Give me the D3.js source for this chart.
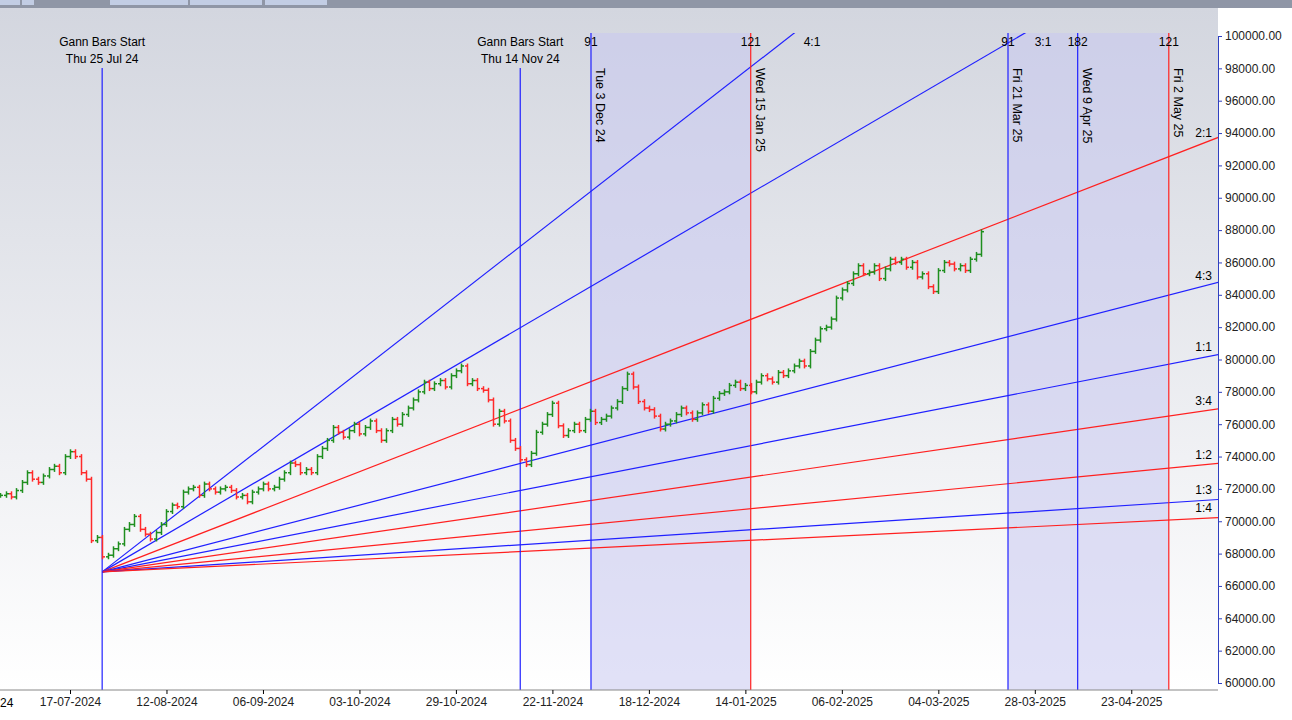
<!DOCTYPE html>
<html><head><meta charset="utf-8">
<script src="https://cdn.jsdelivr.net/npm/d3@7"></script>
<style>body{margin:0;overflow:hidden}svg{display:block;font-family:"Liberation Sans",Arial,sans-serif}</style>
</head><body><svg id="c" width="1292" height="720"></svg>
<script>
// bar index 0 = 17-07-2024 (trading-day index)
const startIndex = -13;
const closes = [71.6,71.7,71.5,71.9,72.4,73.0,72.6,72.4,72.8,73.2,73.4,73.0,74.0,
74.3,74.0,73.0,72.6,68.8,69.0,67.8,67.9,68.3,68.6,69.5,69.8,70.3,69.5,69.2,68.9,69.3,69.8,70.6,71.0,70.9,71.8,72.0,72.1,71.6,72.3,72.0,71.8,72.0,72.1,71.9,71.5,71.6,71.2,71.8,72.0,72.3,72.0,72.1,72.6,73.0,73.6,73.5,73.0,73.2,73.0,74.0,74.5,75.0,75.8,75.5,75.2,75.6,76.0,75.4,75.8,76.2,75.6,75.0,75.6,76.3,76.0,76.6,77.0,77.5,78.0,78.6,78.2,78.5,78.7,78.3,79.0,79.3,79.6,78.5,78.7,78.2,78.1,77.5,76.0,76.8,76.2,75.0,74.5,73.8,73.5,74.2,75.5,76.0,76.6,77.3,75.9,75.3,75.6,76.0,75.6,76.3,76.8,76.1,76.3,76.5,77.0,77.4,78.2,79.1,78.3,77.4,77.0,76.9,76.5,75.7,76.0,76.2,76.6,77.0,76.7,76.3,76.7,77.2,76.8,77.6,77.9,78.0,78.4,78.6,78.2,78.4,78.0,78.6,79.0,78.8,78.6,79.2,79.0,79.3,79.6,79.9,79.6,80.5,81.2,81.9,82.0,82.5,83.8,84.3,84.7,85.3,85.8,85.3,85.4,85.8,85.0,85.6,86.2,86.0,86.2,85.7,86.0,85.1,85.3,84.5,84.2,85.5,86.0,85.9,85.6,85.8,85.5,86.2,86.5,87.9];
const tickLabels = ["17-07-2024","12-08-2024","06-09-2024","03-10-2024","29-10-2024","22-11-2024","18-12-2024","14-01-2025","06-02-2025","04-03-2025","28-03-2025","23-04-2025"];
const tickIdx = [0,18,36,54,72,90,108,126,144,162,180,198];
const gannOrigin = {idx:6, price:66870};
const gannRatios = [["4:1",258,"blue"],["3:1",193.5,"blue"],["2:1",129,"red"],["4:3",86,"blue"],["1:1",64.5,"blue"],["3:4",48.4,"red"],["1:2",32.25,"red"],["1:3",21.5,"blue"],["1:4",16.1,"red"]];
const vlines = [{idx:6,c:"blue",top:"Gann Bars Start|Thu 25 Jul 24"},{idx:84,c:"blue",top:"Gann Bars Start|Thu 14 Nov 24"},
 {idx:97.2,c:"blue",rot:"Tue 3 Dec 24",num:"91"},{idx:127,c:"red",rot:"Wed 15 Jan 25",num:"121"},
 {idx:175,c:"blue",rot:"Fri 21 Mar 25",num:"91"},{idx:188,c:"blue",rot:"Wed 9 Apr 25",num:"182"},{idx:205,c:"red",rot:"Fri 2 May 25",num:"121"}];
const shades = [[97.2,127],[175,205]];

const svg = d3.select("#c");
const x = d3.scaleLinear().domain([0,1]).range([70,75.36]);
const y = d3.scaleLinear().domain([60000,100000]).range([683,36]);
const L=0,R=1218,T=30,B=690;
const defs=svg.append("defs");
const g=defs.append("linearGradient").attr("id","bg").attr("x1",0).attr("x2",0).attr("y1",0).attr("y2",1);
g.append("stop").attr("offset","0").attr("stop-color","#d3d6df");
g.append("stop").attr("offset","1").attr("stop-color","#ffffff");
defs.append("clipPath").attr("id","cp").append("rect").attr("x",L).attr("y",33).attr("width",R-L).attr("height",B-33);
svg.append("rect").attr("width",1292).attr("height",720).attr("fill","#fff");
svg.append("rect").attr("x",0).attr("y",8).attr("width",1292).attr("height",B-8).attr("fill","url(#bg)");
svg.append("rect").attr("x",0).attr("y",0).attr("width",1292).attr("height",8).attr("fill","#8f96a6");
[[0,20],[22,12],[110,78],[190,72],[265,62]].forEach(b=>svg.append("rect").attr("x",b[0]).attr("y",0).attr("width",b[1]).attr("height",5).attr("fill","#c2cde4"));
svg.append("rect").attr("x",R).attr("y",8).attr("width",74).attr("height",B-8).attr("fill","#fff");

shades.forEach(s=>svg.append("rect").attr("x",x(s[0])).attr("y",33).attr("width",x(s[1])-x(s[0])).attr("height",B-33).attr("fill","#c8c8f0").attr("opacity",0.55));

const cg=svg.append("g").attr("clip-path","url(#cp)");
gannRatios.forEach(r=>{
  const i2=260; cg.append("line").attr("x1",x(gannOrigin.idx)).attr("y1",y(gannOrigin.price))
   .attr("x2",x(i2)).attr("y2",y(gannOrigin.price+r[1]*(i2-gannOrigin.idx))).attr("stroke",r[2]==="red"?"#ff2020":"#2020ff").attr("stroke-width",1.2);
});
vlines.forEach(v=>{
  cg.append("line").attr("x1",x(v.idx)).attr("x2",x(v.idx)).attr("y1",v.top?68:33).attr("y2",B).attr("stroke",v.c==="red"?"#ff2020":"#2020ff").attr("stroke-width",1.2);
  if(v.top){const p=v.top.split("|");
    svg.append("text").attr("x",x(v.idx)).attr("y",46).attr("text-anchor","middle").attr("font-size",12).text(p[0]);
    svg.append("text").attr("x",x(v.idx)).attr("y",63).attr("text-anchor","middle").attr("font-size",12).text(p[1]);}
  if(v.rot){svg.append("text").attr("transform",`translate(${x(v.idx)+5},68) rotate(90)`).attr("font-size",12.5).text(v.rot);}
  if(v.num){svg.append("text").attr("x",x(v.idx)).attr("y",46).attr("text-anchor","middle").attr("font-size",12).text(v.num);}
});
// ratio labels
gannRatios.forEach(r=>{
  const ix=(1205-70)/5.36; let yy=y(gannOrigin.price+r[1]*(ix-gannOrigin.idx))-6;
  let xx=1212, anchor="end";
  if(r[0]==="4:1"){xx=812;yy=46;anchor="middle";} if(r[0]==="3:1"){xx=1043;yy=46;anchor="middle";}
  svg.append("text").attr("x",xx).attr("y",yy).attr("text-anchor",anchor).attr("font-size",12).text(r[0]);
});
// OHLC bars
closes.forEach((c,k)=>{
  const i=startIndex+k; const o=k>0?closes[k-1]:c;
  const hi=Math.max(o,c)*1000+150, lo=Math.min(o,c)*1000-150;
  const col=c>=o?"#1f8f1f":"#ff2a2a"; const xx=Math.round(x(i))+0.5;
  const bg=cg.append("g").attr("stroke",col).attr("stroke-width",1.5);
  bg.append("line").attr("x1",xx).attr("x2",xx).attr("y1",y(hi)).attr("y2",y(lo));
  bg.append("line").attr("x1",xx-2.5).attr("x2",xx).attr("y1",y(o*1000)).attr("y2",y(o*1000));
  bg.append("line").attr("x1",xx).attr("x2",xx+2.5).attr("y1",y(c*1000)).attr("y2",y(c*1000));
});
// right axis
const ya=svg.append("g").attr("transform",`translate(${R},0)`).call(d3.axisRight(y).tickValues(d3.range(60000,100001,2000)).tickSize(4).tickFormat(d=>d.toFixed(2)));
ya.selectAll("text").attr("font-size",12).attr("fill","#222");
ya.select(".domain").attr("stroke","#3040c0");ya.selectAll(".tick line").attr("stroke","#3040c0");
// bottom axis
svg.append("line").attr("x1",0).attr("x2",R).attr("y1",B).attr("y2",B).attr("stroke","#888");
const xa=svg.append("g").attr("transform",`translate(0,${B})`).call(d3.axisBottom(x).tickValues(tickIdx).tickSize(4).tickFormat((d,i)=>tickLabels[i]));
xa.select(".domain").remove();xa.selectAll("text").attr("font-size",12).attr("fill","#222");
svg.append("text").attr("x",0).attr("y",707).attr("font-size",12).text("24");
</script></body></html>
